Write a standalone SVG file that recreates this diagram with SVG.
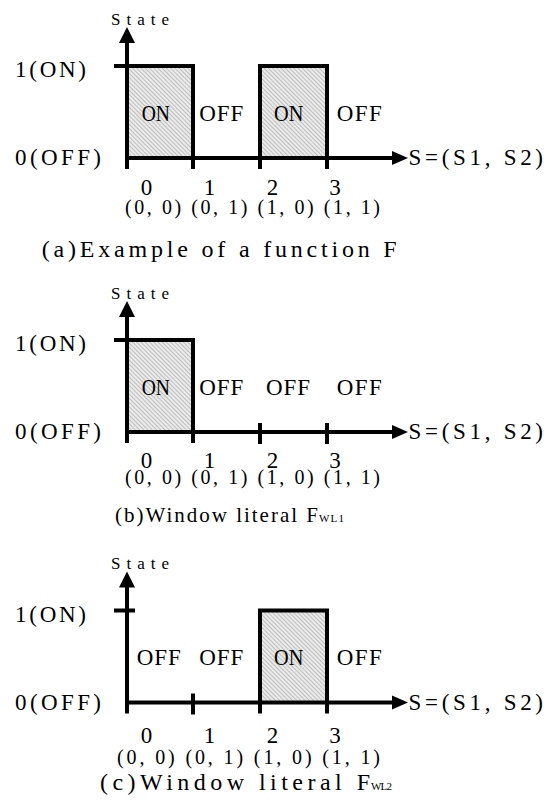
<svg xmlns="http://www.w3.org/2000/svg" width="555" height="809" viewBox="0 0 555 809">
  <style>
    .ln { fill: none; stroke: #000; stroke-width: 4; stroke-linecap: butt; stroke-linejoin: miter; }
    .ah { fill: #000; stroke: none; }
    .on { fill: url(#hatch); stroke: none; }
    text { font-family: "Liberation Serif", "DejaVu Serif", serif; fill: #000; }
    .lb { font-size: 23px; }
    .st { font-size: 17px; }
    .tp { font-size: 20px; }
    .cap { font-size: 24px; }
    .capb { font-size: 21px; }
    .sub { font-size: 11px; }
  </style>
  <defs>
    <pattern id="hatch" width="3" height="3" patternUnits="userSpaceOnUse" patternTransform="rotate(-45)">
      <rect width="3" height="3" fill="#eaeaea"/>
      <line x1="0.5" y1="0" x2="0.5" y2="3" stroke="#bfbfbf" stroke-width="1"/>
    </pattern>
    <!-- shared axes: vertical State axis and horizontal S axis with arrowheads -->
    <g id="axes">
      <path class="ln" d="M127 169 V41"/>
      <path class="ah" d="M127 27 L119 43 L135 43 Z"/>
      <path class="ln" d="M127 158 H393"/>
      <path class="ah" d="M408 158 L392 151 L392 165 Z"/>
      <text class="st" x="111" y="24.5" textLength="58">State</text>
      <text class="lb" x="15" y="77" textLength="71">1(ON)</text>
      <text class="lb" x="15" y="165" textLength="86">0(OFF)</text>
      <text class="lb" x="408.5" y="165" textLength="134.5">S=(S1, S2)</text>
    </g>
    <g id="digits">
      <text class="lb" x="146.5" y="0" text-anchor="middle">0</text>
      <text class="lb" x="209.5" y="0" text-anchor="middle">1</text>
      <text class="lb" x="272.5" y="0" text-anchor="middle">2</text>
      <text class="lb" x="335" y="0" text-anchor="middle">3</text>
    </g>
  </defs>

  <!-- (a) example function F: ON at 0 and 2 -->
  <g id="panel-a">
    <rect class="on" x="127" y="66" width="66" height="92"/>
    <rect class="on" x="260" y="66" width="67" height="92"/>
    <use href="#axes"/>
    <path class="ln" d="M114 66 H193 V169"/>
    <path class="ln" d="M260 169 V66 H327 V169"/>
    <text class="lb" x="141.7" y="120.7" textLength="28.3" lengthAdjust="spacingAndGlyphs">ON</text>
    <text class="lb" x="199.3" y="120.7" textLength="44">OFF</text>
    <text class="lb" x="274" y="120.7" textLength="29.3" lengthAdjust="spacingAndGlyphs">ON</text>
    <text class="lb" x="336.7" y="120.7" textLength="45">OFF</text>
    <use href="#digits" y="195"/>
    <text class="tp" x="125" y="214" textLength="255">(0, 0) (0, 1) (1, 0) (1, 1)</text>
    <text class="cap" x="41.7" y="257" textLength="355">(a)Example of a function F</text>
  </g>

  <!-- (b) window literal FWL1: ON only at 0 -->
  <g id="panel-b" transform="translate(0,274)">
    <rect class="on" x="127" y="66" width="66" height="92"/>
    <use href="#axes"/>
    <path class="ln" d="M114 66 H193 V169"/>
    <path class="ln" d="M260 149 V170 M327 149 V170"/>
    <text class="lb" x="141.7" y="120.7" textLength="28.3" lengthAdjust="spacingAndGlyphs">ON</text>
    <text class="lb" x="199.3" y="120.7" textLength="44">OFF</text>
    <text class="lb" x="266" y="120.7" textLength="44">OFF</text>
    <text class="lb" x="336.7" y="120.7" textLength="45">OFF</text>
    <use href="#digits" y="194"/>
    <text class="tp" x="125" y="210" textLength="255">(0, 0) (0, 1) (1, 0) (1, 1)</text>
    <text class="capb" x="115" y="248" textLength="203">(b)Window literal F</text>
    <text class="sub" x="319" y="248" textLength="25">WL1</text>
  </g>

  <!-- (c) window literal FWL2: ON only at 2 -->
  <g id="panel-c" transform="translate(0,544.5)">
    <rect class="on" x="260" y="66" width="67" height="92"/>
    <use href="#axes"/>
    <path class="ln" d="M114 66 H135"/>
    <path class="ln" d="M193 149 V170"/>
    <path class="ln" d="M260 169 V66 H327 V169"/>
    <text class="lb" x="136.7" y="120.7" textLength="44">OFF</text>
    <text class="lb" x="199.3" y="120.7" textLength="44">OFF</text>
    <text class="lb" x="274" y="120.7" textLength="29.3" lengthAdjust="spacingAndGlyphs">ON</text>
    <text class="lb" x="336.7" y="120.7" textLength="45">OFF</text>
    <use href="#digits" y="198"/>
    <text class="tp" x="117" y="219.5" textLength="263">(0, 0) (0, 1) (1, 0) (1, 1)</text>
    <text class="cap" x="100" y="245" textLength="270">(c)Window literal F</text>
    <text class="sub" x="371" y="245" textLength="21">WL2</text>
  </g>
</svg>
